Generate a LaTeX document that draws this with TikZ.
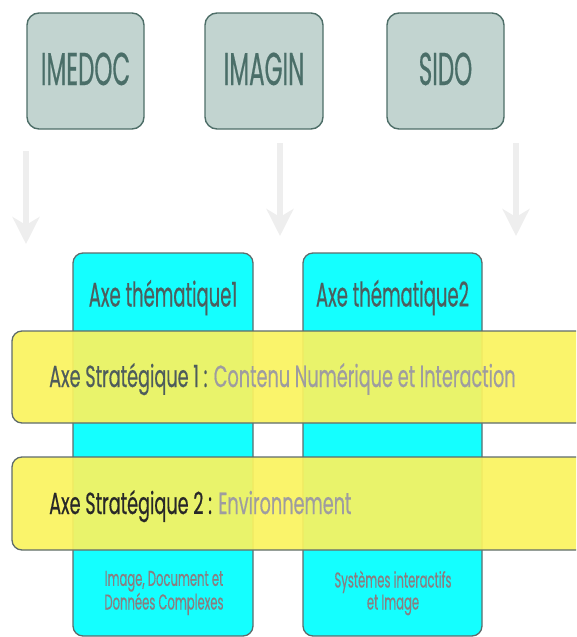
\documentclass[tikz,border=0pt]{standalone}
\usepackage{fontspec}
\usetikzlibrary{arrows.meta}
\newfontfamily\unitfont[FakeStretch=0.5, FakeBold=0.4]{Poppins}
\newfontfamily\titlefont[FakeStretch=0.53, FakeBold=0.4]{Poppins}
\newfontfamily\bandfont[FakeStretch=0.58, FakeBold=0.4]{Poppins}
\newfontfamily\smallfont[FakeStretch=0.54, FakeBold=0.3]{Poppins}
\definecolor{boxfill}{RGB}{194,212,208}
\definecolor{boxline}{RGB}{78,110,104}
\definecolor{boxtext}{RGB}{74,110,104}
\definecolor{colfill}{RGB}{20,255,255}
\definecolor{colline}{RGB}{94,107,107}
\definecolor{coltext}{RGB}{77,94,94}
\definecolor{bandfill}{RGB}{250,243,96}
\definecolor{arrowgray}{RGB}{238,238,238}
\definecolor{darkslate}{RGB}{78,92,92}
\definecolor{nearblack}{RGB}{40,40,40}
\definecolor{lightgray}{RGB}{158,156,160}
\definecolor{bottomtext}{RGB}{138,125,128}
\tikzset{
  unitbox/.style={draw=boxline, line width=1.4pt, fill=boxfill, rounded corners=12pt},
  unitlabel/.style={anchor=base, inner sep=0pt, text=boxtext, font=\unitfont\fontsize{46}{48}\selectfont},
  flowarrow/.style={draw=arrowgray, line width=6pt, -{Stealth[length=27pt, width=27pt, inset=8pt]}},
  colbox/.style={draw=colline, line width=1.3pt, fill=colfill, rounded corners=10pt},
  coltitle/.style={anchor=base, inner sep=0pt, text=coltext, font=\titlefont\fontsize{34}{36}\selectfont},
  colbottom/.style={anchor=center, inner sep=0pt, align=center, text=bottomtext, font=\smallfont\fontsize{21.5}{22}\selectfont},
  bandbox/.style={draw=colline, line width=1.3pt, fill=bandfill, fill opacity=0.93, rounded corners=10pt},
  bandlabel/.style={anchor=base west, inner sep=0pt, font=\bandfont\fontsize{30.5}{32}\selectfont},
}
\begin{document}
\begin{tikzpicture}[x=1pt, y=-1pt]
\useasboundingbox (0,0) rectangle (576,637);
\begin{scope}
\clip (0,0) rectangle (576,637);
% top units
\draw[unitbox] (27,13) rectangle (144,129);
\draw[unitbox] (205,13) rectangle (323,129);
\draw[unitbox] (387,13) rectangle (504,129);
\node[unitlabel] (imedoc) at (85.5,85) {IMEDOC};
\node[unitlabel] (imagin) at (264,85) {IMAGIN};
\node[unitlabel] (sido) at (445.5,85) {SIDO};
% arrows
\coordinate (a1s) at (26,151);
\coordinate (a1e) at (26,244);
\coordinate (a2s) at (280,143);
\coordinate (a2e) at (280,236);
\coordinate (a3s) at (516,143);
\coordinate (a3e) at (516,236);
\draw[flowarrow] (a1s) -- (a1e);
\draw[flowarrow] (a2s) -- (a2e);
\draw[flowarrow] (a3s) -- (a3e);
% columns
\draw[colbox] (73,253) rectangle (253,636);
\draw[colbox] (303,253) rectangle (482,636);
\node[coltitle] (t1) at (163,306.5) {Axe thématique1};
\node[coltitle] (t2) at (392.5,306.5) {Axe thématique2};
\node[colbottom] (b1) at (164,593) {Image, Document et\\Données Complexes};
\node[colbottom] (b2) at (393,593) {Systèmes interactifs\\et Image};
% bands
\draw[bandbox] (12,331) rectangle (610,423);
\draw[bandbox] (12,457) rectangle (610,550);
\node[bandlabel] (s1) at (49,387) {\textcolor{darkslate}{Axe Stratégique 1 :} \textcolor{lightgray}{Contenu Numérique et Interaction}};
\node[bandlabel] (s2) at (49,514) {\textcolor{nearblack}{Axe Stratégique 2 :} \textcolor{lightgray}{Environnement}};
\end{scope}
\end{tikzpicture}
\end{document}
